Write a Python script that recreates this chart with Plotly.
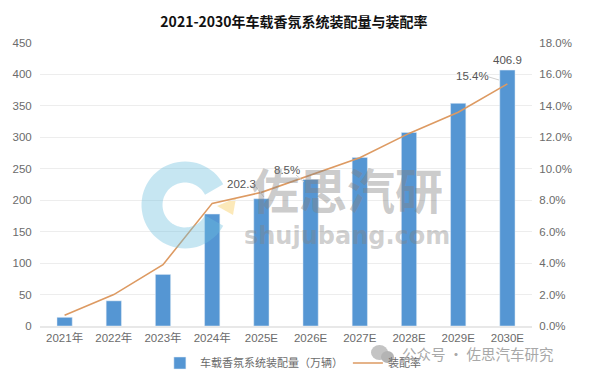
import numpy as np
import plotly.graph_objects as go

categories = ["2021年", "2022年", "2023年", "2024年", "2025E", "2026E", "2027E", "2028E", "2029E", "2030E"]
volume = [13.8, 40, 82, 178, 202.3, 233, 268, 307.7, 354, 406.9]
rate = [0.68, 2.0, 3.9, 7.8, 8.5, 9.6, 10.7, 12.25, 13.6, 15.4]
left_ticks = [0, 50, 100, 150, 200, 250, 300, 350, 400, 450]
right_ticks = [0, 2, 4, 6, 8, 10, 12, 14, 16, 18]

FONT = "Liberation Sans, Noto Sans CJK SC"
GREY = "#6b6b6b"
W, H = 599, 375
ML, MR, MT, MB = 40, 67, 43, 49
PW, PH = W - ML - MR, H - MT - MB


def px(x):
    return (x - ML) / PW


def py(y):
    return 1 - (y - MT) / PH


fig = go.Figure()
fig.add_bar(x=categories, y=volume, name="车载香氛系统装配量（万辆）", marker_color="#5596d3", width=0.31, yaxis="y")
fig.add_scatter(x=categories, y=rate, name="装配率", mode="lines", line=dict(color="#dd9a62", width=1.6), yaxis="y2")

# Faint watermark ring, opening to the right
cx, cy, r = 185, 205, 33
a = np.radians(np.linspace(-28, -332, 60))
ring = "M " + " L ".join(f"{px(cx + r * np.cos(t)):.4f},{py(cy + r * np.sin(t)):.4f}" for t in a)
shapes = [
    dict(type="path", path=ring, xref="paper", yref="paper", line=dict(color="#6cbfdf", width=21),
         opacity=0.38, layer="above"),
    dict(type="path", xref="paper", yref="paper", fillcolor="#fbe3a8", line=dict(width=0), opacity=0.8, layer="below",
         path=f"M {px(217):.4f},{py(206):.4f} L {px(236):.4f},{py(198):.4f} L {px(233):.4f},{py(215):.4f} Z"),
]
# Leader lines
for (x0, y0, x1, y1) in [(256, 187, 264, 197), (296, 175, 304, 182), (489, 77, 499, 80)]:
    shapes.append(dict(type="line", xref="paper", yref="paper", x0=px(x0), y0=py(y0), x1=px(x1), y1=py(y1),
                       line=dict(color="#d0d0d0", width=1)))
# Small chat icon next to the account name
for (x0, y0, x1, y1, c) in [(371, 345, 388, 360, "#c4c4c4"), (381, 351, 394, 363, "#b4b4b4")]:
    shapes.append(dict(type="circle", xref="paper", yref="paper", x0=px(x0), y0=py(y0), x1=px(x1), y1=py(y1),
                       fillcolor=c, line=dict(width=0), layer="above"))

ann = [
    dict(text="202.3", x=categories[4], y=volume[4], yref="y", xshift=-20, yshift=15),
    dict(text="8.5%", x=categories[4], y=rate[4], yref="y2", xshift=26, yshift=22),
    dict(text="406.9", x=categories[9], y=volume[9], yref="y", xshift=0, yshift=10),
    dict(text="15.4%", x=categories[9], y=rate[9], yref="y2", xshift=-35, yshift=8),
]
annotations = [dict(a, xref="x", showarrow=False, font=dict(family=FONT, size=11.5, color="#555555")) for a in ann]
annotations += [
    dict(text="<b>佐思汽研</b>", xref="paper", yref="paper", x=px(347), y=py(188), showarrow=False,
         xanchor="center", yanchor="middle",
         font=dict(family="Noto Sans CJK SC", size=48, color="rgba(130,130,130,0.42)")),
    dict(text="<b>shujubang.com</b>", xref="paper", yref="paper", x=px(347), y=py(236), showarrow=False,
         xanchor="center", yanchor="middle",
         font=dict(family="DejaVu Sans", size=24, color="rgba(130,130,130,0.38)")),
    dict(text="公众号 · 佐思汽车研究", xref="paper", yref="paper", x=px(478), y=py(353), showarrow=False,
         xanchor="center", yanchor="middle",
         font=dict(family="Noto Sans CJK SC", size=14.5, color="#a8a8a8")),
]

tick_font = dict(family=FONT, size=11.5, color=GREY)
fig.update_layout(
    width=W, height=H, margin=dict(l=ML, r=MR, t=MT, b=MB, autoexpand=False), autosize=False,
    paper_bgcolor="white", plot_bgcolor="white", bargap=0.69, shapes=shapes, annotations=annotations,
    title=dict(text="<b>2021-2030年车载香氛系统装配量与装配率</b>", x=294 / W, xanchor="center", y=1 - 22 / H, yanchor="middle",
               font=dict(family="Noto Sans CJK SC", size=14, color="#111111")),
    font=dict(family=FONT, size=11, color=GREY),
    legend=dict(orientation="h", x=0.514, xanchor="center", y=1 - 363 / H, yanchor="middle", yref="container",
                font=dict(family=FONT, size=11, color=GREY), traceorder="normal", bgcolor="rgba(0,0,0,0)"),
    xaxis=dict(type="category", showgrid=False, showline=True, linecolor="#e8e8e8", linewidth=1.5, ticks="",
               tickfont=tick_font),
    yaxis=dict(range=[0, 450], tickvals=left_ticks, showgrid=True, gridcolor="#ededed", gridwidth=1.3, zeroline=False,
               showline=False, ticks="outside", ticklen=5, tickcolor="rgba(0,0,0,0)", tickfont=tick_font),
    yaxis2=dict(range=[0, 18], tickvals=right_ticks, ticktext=[f"{v:.1f}%" for v in right_ticks], overlaying="y",
                side="right", showgrid=False, zeroline=False, showline=False, ticks="outside", ticklen=4,
                tickcolor="rgba(0,0,0,0)", tickfont=tick_font),
)
fig.write_html("out.html", config={"displayModeBar": False},
               post_script="document.body.style.margin='0';document.body.style.overflow='hidden';")
